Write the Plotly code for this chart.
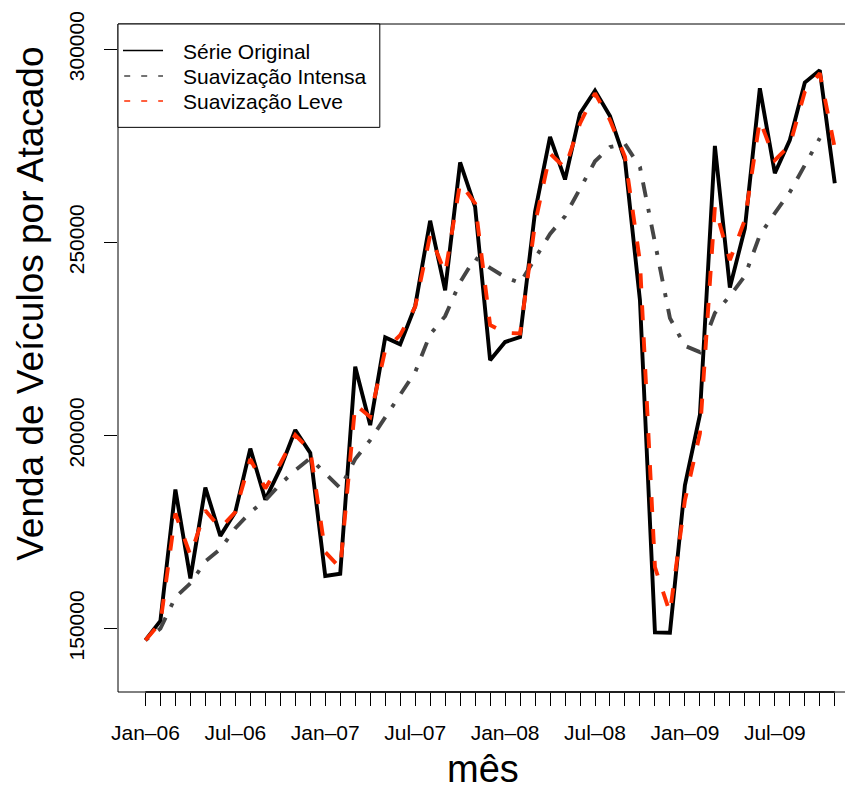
import plotly.graph_objects as go

months = list(range(47))
tick_labels = ["Jan–06", "", "", "", "", "", "Jul–06", "", "", "", "", "",
               "Jan–07", "", "", "", "", "", "Jul–07", "", "", "", "", "",
               "Jan–08", "", "", "", "", "", "Jul–08", "", "", "", "", "",
               "Jan–09", "", "", "", "", "", "Jul–09", "", "", "", ""]

serie_original = [147000, 152000, 186000, 163000, 186500, 174000, 180200, 196600, 183400, 191400,
                  201400, 195500, 163600, 164200, 217800, 202700, 225400, 223600, 233500, 255600,
                  237600, 270700, 259200, 219500, 224200, 225500, 257900, 277300, 266300, 283400,
                  289300, 282700, 271300, 235000, 149000, 148900, 187100, 205300, 275000, 238300,
                  253600, 289900, 267900, 276500, 291400, 294600, 265300]

suav_intensa = [147000, 150000, 158100, 161700, 167400, 170600, 176000, 180100, 183200, 187400,
                191000, 194100, 190200, 186400, 193900, 198800, 204700, 210400, 216400, 226200,
                230900, 239700, 246000, 243400, 241000, 239500, 245700, 252200, 256800, 264100,
                271000, 274700, 275500, 269500, 249300, 230400, 223200, 221600, 231700, 236100,
                241300, 251900, 257600, 263000, 270000, 277000]

suav_leve = [147000, 151500, 179800, 169000, 180600, 176000, 180200, 193900, 186300, 192700,
             200100, 196200, 169800, 165700, 208000, 204800, 222100, 226000, 233300, 251900,
             242000, 265400, 260100, 228600, 226600, 226400, 254900, 273000, 269300, 280800,
             288600, 281700, 272200, 245000, 165900, 154100, 183200, 200500, 259200, 245400,
             255800, 281700, 271300, 275200, 289000, 293800, 274400]

y_ticks = [150000, 200000, 250000, 300000]

OFF = 8  # page body margin
W, H = 853 - OFF, 791 - OFF
SL, SR, ST, SB = 118.3, 853.0, 24.0, 691.7
L, R, T, B = SL - OFF, SR - OFF, ST - OFF, SB - OFF
PW, PH = R - L, B - T


def px(x):
    return (x - SL) / PW


def py(y):
    return (SB - y) / PH


FONT = "Liberation Sans, Arial, Helvetica, sans-serif"
GRAY = "#454545"
RED = "#ff2d00"

fig = go.Figure()
fig.add_trace(go.Scatter(x=months, y=serie_original, mode="lines",
                         line=dict(color="black", width=3.9), name="Série Original"))
fig.add_trace(go.Scatter(x=months[:len(suav_intensa)], y=suav_intensa, mode="lines",
                         line=dict(color=GRAY, width=3.9, dash="4px,12px,15px,12px"),
                         name="Suavização Intensa"))
fig.add_trace(go.Scatter(x=months, y=suav_leve, mode="lines",
                         line=dict(color=RED, width=3.9, dash="15px,17px"),
                         name="Suavização Leve"))

shapes = []
for (x0, y0, x1, y1) in [(0, 1, 1, 1), (0, 0, 0, 1), (0, 0, 1, 0)]:
    shapes.append(dict(type="line", xref="paper", yref="paper", x0=x0, y0=y0, x1=x1, y1=y1,
                       line=dict(color="black", width=1)))
# bottom axis line between first and last tick
shapes.append(dict(type="line", xref="x", yref="paper", x0=months[0], x1=months[-1], y0=0, y1=0,
                   line=dict(color="black", width=1.6)))
shapes.append(dict(type="rect", xref="paper", yref="paper", x0=px(118.3), x1=px(380),
                   y0=py(127.3), y1=py(24), line=dict(color="black", width=1),
                   fillcolor="white"))
leg_rows = [("Série Original", "black", "solid", 50.5),
            ("Suavização Intensa", GRAY, "6px,11px", 76.0),
            ("Suavização Leve", RED, "6px,11px", 101.0)]
annotations = []
for text, col, dash, yy in leg_rows:
    x0 = 123.3 if dash == "solid" else 124.5
    shapes.append(dict(type="line", xref="paper", yref="paper", x0=px(x0), x1=px(163.3),
                       y0=py(yy), y1=py(yy), line=dict(color=col, width=1.5, dash=dash)))
    annotations.append(dict(text=text, xref="paper", yref="paper", x=px(181), y=py(yy + 0.5),
                            xanchor="left", yanchor="middle", showarrow=False,
                            font=dict(family=FONT, size=21, color="black")))

annotations.append(dict(text="mês", xref="paper", yref="paper", x=px(483.5), y=py(769),
                        xanchor="center", yanchor="middle", showarrow=False,
                        font=dict(family=FONT, size=38, color="black")))
annotations.append(dict(text="Venda de Veículos por Atacado", xref="paper", yref="paper",
                        x=px(30), y=py(304), xanchor="center", yanchor="middle",
                        textangle=-90, showarrow=False,
                        font=dict(family=FONT, size=37, color="black")))

x_left = -1.829
x_right = 47.216
y_bottom = 133575
y_top = 306554

fig.update_layout(
    width=W, height=H,
    margin=dict(l=L, r=W - R, t=T, b=H - B, pad=0),
    paper_bgcolor="white", plot_bgcolor="white",
    showlegend=False,
    shapes=shapes, annotations=annotations,
    font=dict(family=FONT, size=21, color="black"),
    xaxis=dict(range=[x_left, x_right], tickmode="array", tickvals=months, ticktext=tick_labels,
               ticks="outside", ticklen=13, tickwidth=1, tickcolor="black",
               showgrid=False, zeroline=False, showline=False, tickangle=0,
               ticklabelstandoff=9,
               tickfont=dict(family=FONT, size=21, color="black")),
    yaxis=dict(range=[y_bottom, y_top], tickmode="array", tickvals=y_ticks,
               ticktext=[str(v) for v in y_ticks],
               ticks="outside", ticklen=13, tickwidth=1, tickcolor="black",
               showgrid=False, zeroline=False, showline=False, tickangle=-90,
               ticklabelstandoff=12,
               tickfont=dict(family=FONT, size=21, color="black")),
)

fig.write_html("out.html")
